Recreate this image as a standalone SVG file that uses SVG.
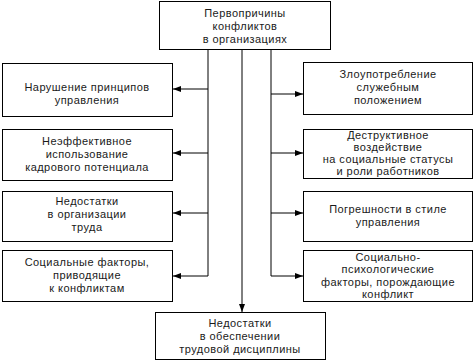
<svg xmlns="http://www.w3.org/2000/svg" width="475" height="362" viewBox="0 0 475 362">
<defs>
<style>
.box{fill:#fff;stroke:#000;stroke-width:1}
.t{font-family:"Liberation Sans",Arial,sans-serif;font-size:11px;letter-spacing:0.45px;fill:#1a1a1a;text-anchor:middle}
.c{fill:none;stroke:#000;stroke-width:1}
</style>
<marker id="ah" markerWidth="8" markerHeight="6" refX="8" refY="3" orient="auto" markerUnits="userSpaceOnUse">
<path d="M0,0 L8,3 L0,6 Z" fill="#000"/>
</marker>
</defs>
<rect width="475" height="362" fill="#fff"/>
<g id="connectors">
<path class="c" d="M208,49 V276"/>
<path class="c" d="M271,49 V276"/>
<path class="c" d="M242,49 V312" marker-end="url(#ah)"/>
<path class="c" d="M208,89 H173" marker-end="url(#ah)"/>
<path class="c" d="M208,153 H173" marker-end="url(#ah)"/>
<path class="c" d="M208,213 H173" marker-end="url(#ah)"/>
<path class="c" d="M208,276 H173" marker-end="url(#ah)"/>
<path class="c" d="M271,94 H303" marker-end="url(#ah)"/>
<path class="c" d="M271,153 H303" marker-end="url(#ah)"/>
<path class="c" d="M271,213 H303" marker-end="url(#ah)"/>
<path class="c" d="M271,276 H303" marker-end="url(#ah)"/>
</g>
<g id="top">
<rect class="box" x="159.5" y="1.5" width="171" height="48"/>
<text class="t" x="245" y="17">Первопричины</text>
<text class="t" x="245" y="30">конфликтов</text>
<text class="t" x="245" y="43">в организациях</text>
</g>
<g id="l1">
<rect class="box" x="2.5" y="63.5" width="170" height="53"/>
<text class="t" x="87" y="91">Нарушение принципов</text>
<text class="t" x="87" y="104">управления</text>
</g>
<g id="l2">
<rect class="box" x="2.5" y="129.5" width="170" height="51"/>
<text class="t" x="87" y="145">Неэффективное</text>
<text class="t" x="87" y="158">использование</text>
<text class="t" x="87" y="171">кадрового потенциала</text>
</g>
<g id="l3">
<rect class="box" x="2.5" y="191.5" width="170" height="50"/>
<text class="t" x="87" y="205">Недостатки</text>
<text class="t" x="87" y="218">в организации</text>
<text class="t" x="87" y="231">труда</text>
</g>
<g id="l4">
<rect class="box" x="2.5" y="250.5" width="170" height="51"/>
<text class="t" x="87" y="266">Социальные факторы,</text>
<text class="t" x="87" y="279">приводящие</text>
<text class="t" x="87" y="292">к конфликтам</text>
</g>
<g id="r1">
<rect class="box" x="303.5" y="62.5" width="169" height="52"/>
<text class="t" x="388" y="78">Злоупотребление</text>
<text class="t" x="388" y="91">служебным</text>
<text class="t" x="388" y="104">положением</text>
</g>
<g id="r2">
<rect class="box" x="303.5" y="129.5" width="169" height="49"/>
<text class="t" x="388" y="139">Деструктивное</text>
<text class="t" x="388" y="151">воздействие</text>
<text class="t" x="388" y="163">на социальные статусы</text>
<text class="t" x="388" y="175">и роли работников</text>
</g>
<g id="r3">
<rect class="box" x="303.5" y="191.5" width="169" height="50"/>
<text class="t" x="388" y="213">Погрешности в стиле</text>
<text class="t" x="388" y="226">управления</text>
</g>
<g id="r4">
<rect class="box" x="303.5" y="250.5" width="169" height="51"/>
<text class="t" x="388" y="261">Социально-</text>
<text class="t" x="388" y="273">психологические</text>
<text class="t" x="388" y="286">факторы, порождающие</text>
<text class="t" x="388" y="298">конфликт</text>
</g>
<g id="bottom">
<rect class="box" x="155.5" y="312.5" width="170" height="47"/>
<text class="t" x="240" y="327">Недостатки</text>
<text class="t" x="240" y="340">в обеспечении</text>
<text class="t" x="240" y="353">трудовой дисциплины</text>
</g>
</svg>
